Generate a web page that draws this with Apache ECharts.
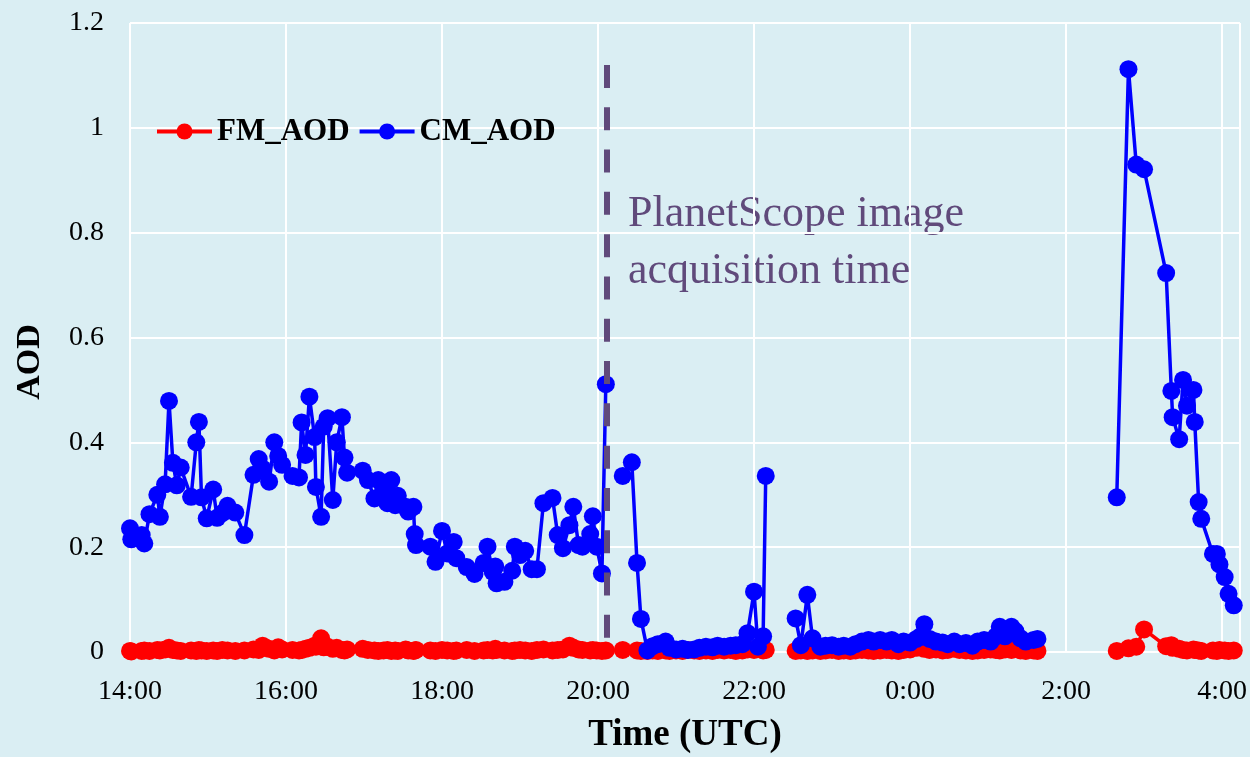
<!DOCTYPE html>
<html>
<head>
<meta charset="utf-8">
<title>AOD</title>
<script src="https://cdn.jsdelivr.net/npm/echarts@6/dist/echarts.min.js"></script>
<style>
    html, body { margin: 0; padding: 0; background: #daeef3; }
    #main { width: 1250px; height: 757px; }
</style>
</head>
<body>
<div id="main"></div>
<script>
    // observation times (UTC), the night rolls past 0:00; null rows break the lines
    var times = [
        '14:00','14:01','14:09','14:11','14:15','14:21','14:23','14:27','14:30','14:33',
        '14:36','14:39','14:47','14:51','14:53','14:55','14:59','15:04','15:07','15:11',
        '15:15','15:21','15:28','15:35','15:39','15:42','15:47','15:51','15:54','15:57',
        '16:05','16:10','16:12','16:15','16:18','16:22','16:23','16:27','16:29','16:32',
        '16:36','16:39','16:43','16:45','16:47','16:59','17:03','17:08','17:11','17:15',
        '17:18','17:21','17:24','17:26','17:32','17:34','17:38','17:39','17:40','17:51',
        '17:55','18:00','18:04','18:09','18:11','18:19','18:25','18:32','18:35','18:39',
        '18:41','18:42','18:48','18:54','18:56','19:00','19:04','19:09','19:13','19:18',
        '19:25','19:29','19:33','19:38','19:41','19:45','19:48','19:54','19:56','19:59',
        '20:03','20:06','20:12','20:19','20:26','20:30','20:33','20:38','20:42','20:46',
        '20:52','20:55','21:00','21:05','21:09','21:14','21:18','21:23','21:28','21:32',
        '21:37','21:42','21:46','21:51','21:55','22:00','22:03','22:07','22:09','22:20',
        '22:32','22:36','22:41','22:45','22:51','22:55','23:00','23:05','23:09','23:14',
        '23:18','23:23','23:28','23:32','23:37','23:42','23:46','23:51','23:55','0:00',
        '0:05','0:08','0:11','0:15','0:20','0:25','0:29','0:34','0:38','0:43',
        '0:48','0:52','0:57','1:02','1:06','1:09','1:13','1:18','1:21','1:25',
        '1:29','1:35','1:38','2:10','2:39','2:48','2:54','3:00','3:17','3:21',
        '3:22','3:27','3:30','3:33','3:38','3:39','3:42','3:44','3:53','3:56',
        '3:58','4:02','4:05','4:09'
    ];

    var fmAod = [
        .002,.001,.002,.003,.002,.004,.003,.005,.008,.004,
        .003,.002,.003,.002,.004,.003,.002,.003,.002,.004,
        .003,.002,.003,.005,.004,.012,.006,.003,.009,.005,
        .004,.003,.004,.006,.008,.012,.010,.026,.009,.010,
        .006,.008,.004,.003,.005,.006,.004,.003,.002,.003,
        .004,.002,.003,.002,.005,.003,.002,.003,.004,.003,
        .002,.004,.003,.002,.003,.004,.002,.003,.004,.003,
        .006,.004,.003,.002,.003,.004,.003,.002,.004,.005,
        .003,.004,.005,.012,.008,.005,.004,.003,.004,.003,
        .002,.003,null,.004,null,.003,.002,.002,.003,.002,
        .003,.002,.003,.002,.004,.003,.002,.003,.002,.004,
        .003,.004,.002,.003,.005,.004,.006,.003,.004,null,
        .002,.003,.002,.003,.002,.003,.004,.002,.003,.002,
        .003,.004,.003,.002,.003,.004,.003,.002,.004,.005,
        .008,.010,.006,.004,.005,.003,.004,.006,.004,.003,
        .002,.003,.004,.005,.004,.003,.005,.004,.006,.003,
        .002,.003,.002,null,.002,.007,.010,.043,.011,.013,
        .008,.006,.004,.003,.005,.004,.003,.002,.003,.002,
        .004,.003,.002,.003
    ];

    var cmAod = [
        .236,.215,.223,.207,.263,.300,.258,.320,.479,.361,
        .318,.352,.296,.400,.439,.295,.255,.310,.256,.265,
        .279,.266,.223,.338,.368,.350,.325,.400,.374,.357,
        .336,.333,.438,.376,.487,.410,.315,.258,.430,.446,
        .290,.400,.448,.371,.342,.346,.328,.293,.328,.312,
        .284,.328,.280,.298,.277,.268,.277,.225,.204,.201,
        .172,.231,.188,.210,.179,.162,.149,.170,.201,.153,
        .163,.131,.134,.155,.201,.185,.193,.158,.158,.284,
        .294,.223,.198,.242,.277,.204,.201,.225,.259,.201,
        .150,.511,null,.336,.362,.170,.063,.003,.011,.015,
        .020,.008,.005,.006,.004,.005,.008,.010,.009,.012,
        .010,.012,.013,.015,.036,.115,.010,.030,.336,null,
        .064,.013,.109,.026,.010,.012,.013,.010,.012,.010,
        .015,.020,.023,.020,.023,.020,.023,.015,.020,.018,
        .025,.030,.053,.025,.020,.018,.015,.020,.015,.017,
        .012,.020,.023,.020,.030,.048,.030,.048,.040,.026,
        .020,.023,.025,null,.295,1.112,.930,.921,.723,.498,
        .448,.406,.519,.470,.500,.439,.286,.254,.187,.187,
        .167,.143,.111,.089
    ];

    var acquisitionTime = '20:07';
    var yTicks = [0, 0.2, 0.4, 0.6, 0.8, 1, 1.2];

    // hours since midnight of the first day
    function toHour(t) {
        var p = t.split(':');
        var h = +p[0] + (+p[1]) / 60;
        if (h < 12) h += 24;
        return h;
    }

    function pairs(vals) {
        return times.map(function (t, i) { return [toHour(t), vals[i]]; });
    }

    var serif = '"Liberation Serif", "DejaVu Serif", serif';
    var purple = '#604a7b';

    var myChart = echarts.init(document.getElementById('main'));

    var option = {
        backgroundColor: '#daeef3',
        animation: false,
        grid: {
            left: 130,
            right: 10,
            top: 23,
            bottom: 105,
            outerBoundsMode: 'none'
        },
        legend: {
            left: 150,
            top: 111,
            itemWidth: 55,
            itemHeight: 20,
            itemGap: 8,
            lineStyle: {width: 4},
            textStyle: {fontFamily: serif, fontSize: 31, fontWeight: 'bold', color: '#000'},
            data: ['FM_AOD', 'CM_AOD']
        },
        xAxis: {
            type: 'value',
            min: 14,
            max: 28.23,
            interval: 2,
            name: 'Time (UTC)',
            nameLocation: 'middle',
            nameGap: 65,
            nameTextStyle: {fontFamily: serif, fontSize: 37, fontWeight: 'bold', color: '#000'},
            axisLine: {show: false},
            axisTick: {show: false},
            axisLabel: {
                margin: 26,
                fontFamily: serif,
                fontSize: 28,
                color: '#000',
                formatter: function (v) { return (Math.round(v) % 24) + ':00'; }
            },
            splitLine: {lineStyle: {color: '#fff', width: 2}}
        },
        yAxis: {
            type: 'value',
            min: yTicks[0],
            max: yTicks[yTicks.length - 1],
            interval: 0.2,
            axisLine: {show: false},
            axisTick: {show: false},
            axisLabel: {margin: 26, fontFamily: serif, fontSize: 28, color: '#000'},
            splitLine: {lineStyle: {color: '#fff', width: 2}}
        },
        graphic: [
            {
                type: 'text',
                x: 30,
                y: 362,
                rotation: Math.PI / 2,
                style: {
                    text: 'AOD',
                    font: 'bold 34px ' + serif,
                    fill: '#000',
                    textAlign: 'center',
                    textVerticalAlign: 'middle'
                }
            },
            {
                type: 'text',
                left: 628,
                top: 186,
                style: {
                    text: 'PlanetScope image\nacquisition time',
                    font: '44px ' + serif,
                    lineHeight: 57,
                    fill: purple
                }
            }
        ],
        series: [
            {
                name: 'FM_AOD',
                type: 'line',
                data: pairs(fmAod),
                connectNulls: false,
                symbol: 'circle',
                symbolSize: 18,
                showAllSymbol: true,
                color: '#ff0000',
                lineStyle: {width: 3.5, color: '#ff0000'},
                itemStyle: {color: '#ff0000'},
                markLine: {
                    silent: true,
                    symbol: 'none',
                    label: {show: false},
                    lineStyle: {color: purple, width: 6, type: [23, 19.3]},
                    data: [[
                        {coord: [toHour(acquisitionTime), 1.12]},
                        {coord: [toHour(acquisitionTime), 0]}
                    ]]
                }
            },
            {
                name: 'CM_AOD',
                type: 'line',
                data: pairs(cmAod),
                connectNulls: false,
                symbol: 'circle',
                symbolSize: 18,
                showAllSymbol: true,
                color: '#0000ff',
                lineStyle: {width: 3.5, color: '#0000ff'},
                itemStyle: {color: '#0000ff'}
            }
        ]
    };

    myChart.setOption(option);
</script>
</body>
</html>
